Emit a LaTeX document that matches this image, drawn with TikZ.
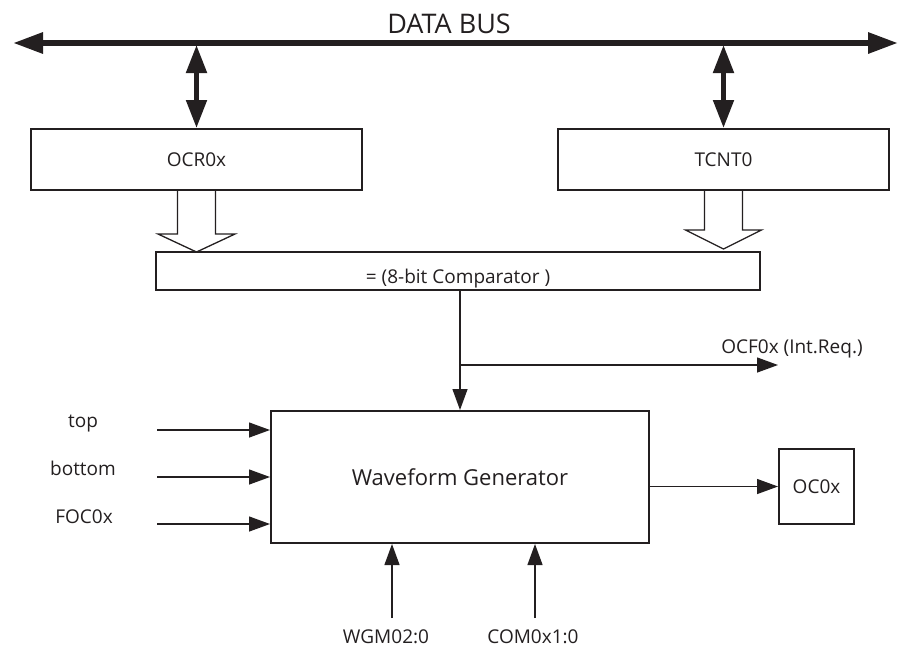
\documentclass[tikz,border=0pt]{standalone}
\usepackage{fontspec}
\setmainfont{Open Sans}
\usetikzlibrary{arrows.meta,positioning}
\definecolor{ink}{HTML}{231F20}
\tikzstyle{block} = [draw=ink, line width=2pt, rectangle, inner sep=0pt,
    text=ink, font=\fontsize{19}{23}\selectfont]
\tikzstyle{sig} = [inner sep=0pt, text=ink, font=\fontsize{19}{23}\selectfont]
\tikzstyle{input} = [coordinate]
\tikzstyle{wire} = [draw=ink, line width=1.3pt, -{Triangle[length=21pt,width=15pt]}]
\tikzstyle{bus} = [draw=ink, line width=6pt,
    {Triangle[length=30pt,width=20pt]}-{Triangle[length=30pt,width=20pt]}]
\tikzstyle{busv} = [draw=ink, line width=5pt,
    {Triangle[length=28pt,width=20pt]}-{Triangle[length=28pt,width=20pt]}]
\tikzstyle{hollow} = [draw=ink, line width=1.3pt, fill=white]

\begin{document}
\begin{tikzpicture}[x=1pt, y=-1pt]
    \useasboundingbox (0,0) rectangle (901,648);
    % The data bus along the top
    \coordinate (busL) at (13,43);
    \coordinate (busR) at (898,43);
    \coordinate (busT) at (0,45);
    \draw [bus] (busL) -- (busR);
    \node [sig, anchor=base, font=\fontsize{27}{32}\selectfont] (title) at (449,33) {DATA BUS};

    % Registers and the comparator
    \node [block, minimum width=331pt, minimum height=61pt] (ocr) at (196.5,159.5) {OCR0x};
    \node [block, minimum width=331pt, minimum height=61pt, right of=ocr,
        node distance=527pt] (tcnt) {TCNT0};
    \node [block, minimum width=604pt, minimum height=38pt, text height=24pt,
        text depth=0pt] (cmp) at (458,271) {= (8-bit Comparator )};
    \node [block, minimum width=378pt, minimum height=132pt,
        font=\fontsize{22}{27}\selectfont] (wave) at (460,477) {Waveform Generator};
    \node [block, minimum width=75pt, minimum height=75pt] (oc) at (816.5,486.5) {OC0x};

    % Bus connections
    \draw [busv] (ocr.north) -- (ocr.north |- busT);
    \draw [busv] (tcnt.north) -- (tcnt.north |- busT);

    % Wide arrows into the comparator
    \draw [hollow] (ocr.south) ++(-19,0) -- ++(0,43) -- ++(-19.5,0) -- ++(38.5,18)
        -- ++(38.5,-18) -- ++(-19.5,0) -- ++(0,-43);
    \draw [hollow] (tcnt.south) ++(-19,0) -- ++(0,39) -- ++(-19,0) -- ++(38,19)
        -- ++(38,-19) -- ++(-19,0) -- ++(0,-39);

    % Comparator output
    \coordinate (ocf) at (778,365);
    \coordinate (split) at (wave.north |- ocf);
    \draw [draw=ink, line width=1.3pt] (wave.north |- cmp.south) -- (split);
    \draw [wire] (split) -- (wave.north);
    \draw [wire] (split) -- (ocf);
    \node [sig, anchor=base] (ocflbl) at (792,353) {OCF0x (Int.Req.)};

    % Inputs on the left
    \node [input] (top) at (157,430) {};
    \node [input] (bot) at (157,477) {};
    \node [input] (foc) at (157,524) {};
    \node [sig, anchor=base] (toplbl) at (83,427) {top};
    \node [sig, anchor=base] (botlbl) at (83,475) {bottom};
    \node [sig, anchor=base] (foclbl) at (84,523) {FOC0x};
    \draw [wire] (top) -- (wave.west |- top);
    \draw [wire] (bot) -- (wave.west |- bot);
    \draw [wire] (foc) -- (wave.west |- foc);

    % Inputs from below
    \node [input] (wgm) at (392,618) {};
    \node [input] (com) at (535,618) {};
    \draw [wire] (wgm) -- (wave.south -| wgm);
    \draw [wire] (com) -- (wave.south -| com);
    \node [sig, anchor=base] (wgmlbl) at (386,643) {WGM02:0};
    \node [sig, anchor=base] (comlbl) at (533,643) {COM0x1:0};

    % Output
    \draw [wire] (wave.east |- oc) -- (oc.west);
\end{tikzpicture}
\end{document}
